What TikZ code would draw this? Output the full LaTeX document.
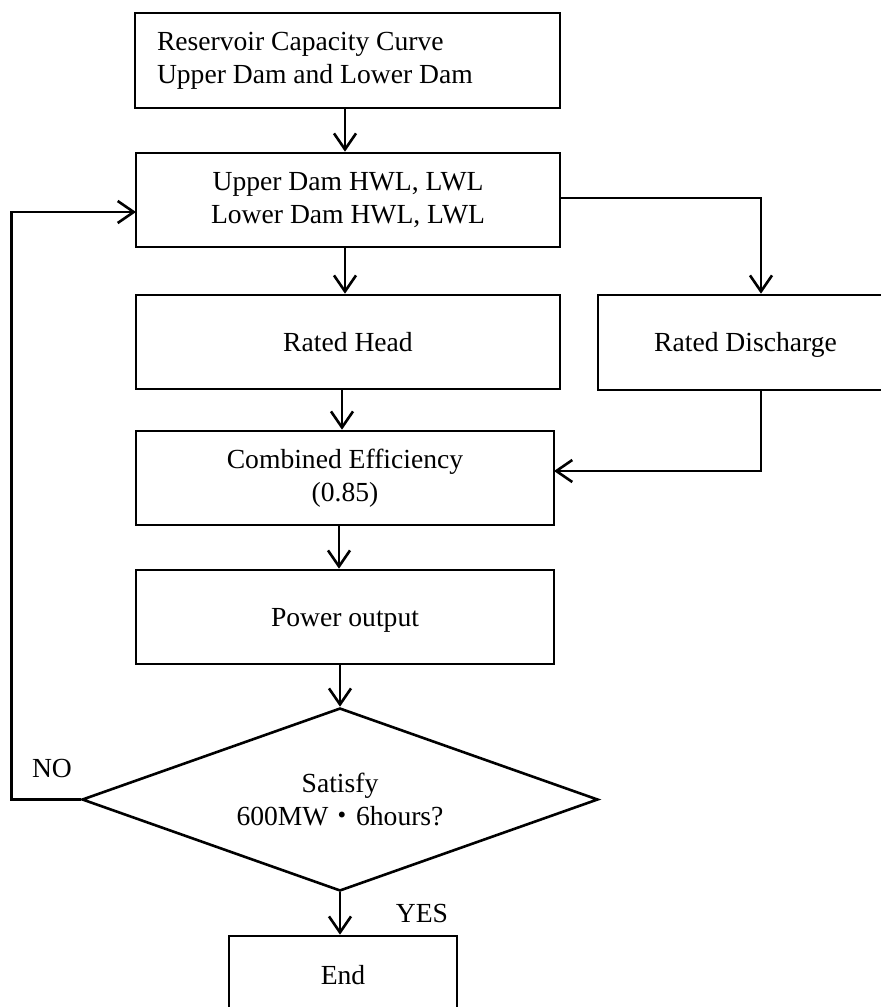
\documentclass[tikz,border=0pt]{standalone}
\usepackage{fontspec}
\setmainfont{Liberation Serif}
\newfontfamily\cjk{Noto Sans CJK JP}
\usetikzlibrary{arrows.meta,shapes.geometric,calc}
\begin{document}
\begin{tikzpicture}[x=1pt,y=-1pt,
  font=\fontsize{27.6}{33}\selectfont,
  box/.style={draw,line width=2.6pt,inner sep=0pt,align=center},
  one/.style={text height=19pt,text depth=1pt},
  arr/.style={line width=2.6pt,-{Straight Barb[length=16pt,width=22pt,line width=2.6pt]}}]
\useasboundingbox (0,0) rectangle (881,1007);
\clip (0,0) rectangle (881,1007);
\node[box,minimum width=425pt,minimum height=95pt,text width=381pt,align=flush left] (b1) at (347.5,60.5) {Reservoir Capacity Curve\\Upper Dam and Lower Dam};
\node[box,minimum width=424pt,minimum height=94pt] (b2) at (348,200) {Upper Dam HWL, LWL\\Lower Dam HWL, LWL};
\node[box,one,minimum width=424pt,minimum height=94pt] (rh) at (348,342) {Rated Head};
\node[box,one,minimum width=295pt,minimum height=95pt] (rd) at (745.5,342.5) {Rated Discharge};
\node[box,minimum width=418pt,minimum height=94pt] (ce) at (345,478) {Combined Efficiency\\(0.85)};
\node[box,one,minimum width=418pt,minimum height=94pt] (po) at (345,617) {Power output};
\node[box,shape=diamond,aspect=2.82,minimum width=516pt,minimum height=183pt] (dia) at (340,799.5) {Satisfy\\600MW{\cjk ・}6hours?};
\node[box,one,minimum width=228pt,minimum height=78pt] (end) at (343,975) {End};
\node (no) at (52,768) {NO};
\node (yes) at (422,913) {YES};
% connectors
\draw[arr] (b1.south -| 345,0) -- (b2.north -| 345,0);
\draw[arr] (b2.south -| 345,0) -- (rh.north -| 345,0);
\draw[arr] (rh.south -| 342,0) -- (ce.north -| 342,0);
\draw[arr] (ce.south -| 339,0) -- (po.north -| 339,0);
\draw[arr] (po.south -| 340,0) -- (dia.north);
\draw[arr] (dia.south) -- (end.north -| 340,0);
\coordinate (b2r) at (560,198);
\draw[arr] (b2r) -| (rd.north -| 761,0);
\coordinate (ceR) at (554,471);
\draw[arr] (rd.south -| 761,0) |- (ceR);
\coordinate (b2in) at (136,212);
\draw[arr] (dia.west) -- ++(-69,0) |- (b2in);
\end{tikzpicture}
\end{document}
